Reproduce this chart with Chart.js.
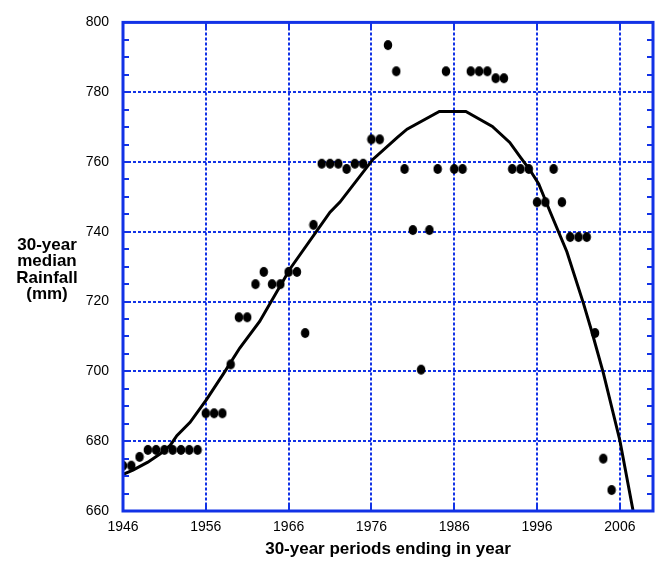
<!DOCTYPE html>
<html>
<head>
<meta charset="utf-8">
<script src="https://cdn.jsdelivr.net/npm/chart.js@4.4.1/dist/chart.umd.min.js"></script>
<style>
  html, body { margin: 0; padding: 0; background: #fff; }
  #wrap { width: 661px; height: 562px; }
</style>
</head>
<body>
<div id="wrap"><canvas id="c" width="661" height="562"></canvas></div>
<script>
// 30-year median rainfall (mm) for each 30-year period, keyed by the ending year
const periodEndYears = [
  1946, 1947, 1948, 1949, 1950, 1951, 1952, 1953, 1954, 1955,
  1956, 1957, 1958, 1959, 1960, 1961, 1962, 1963, 1964, 1965,
  1966, 1967, 1968, 1969, 1970, 1971, 1972, 1973, 1974, 1975,
  1976, 1977, 1978, 1979, 1980, 1981, 1982, 1983, 1984, 1985,
  1986, 1987, 1988, 1989, 1990, 1991, 1992, 1993, 1994, 1995,
  1996, 1997, 1998, 1999, 2000, 2001, 2002, 2003, 2004, 2005
];
const medianRainfall = [
  673, 673, 675.5, 677.5, 677.5, 677.5, 677.5, 677.5, 677.5, 677.5,
  688, 688, 688, 702, 715.5, 715.5, 725, 728.5, 725, 725,
  728.5, 728.5, 711, 742, 759.5, 759.5, 759.5, 758, 759.5, 759.5,
  766.5, 766.5, 793.5, 786, 758, 740.5, 700.5, 740.5, 758, 786,
  758, 758, 786, 786, 786, 784, 784, 758, 758, 758,
  748.5, 748.5, 758, 748.5, 738.5, 738.5, 738.5, 711, 675, 666
];

// Smoothed trend curve
const trendYears = [
  1946, 1947.2, 1949, 1950.5, 1951.7, 1952.5, 1954.1, 1956.1, 1958.1, 1960.1,
  1962.5, 1966.2, 1971, 1972.2, 1976.2, 1979.1, 1980.3, 1984.2, 1987.4, 1990.6,
  1992.7, 1994, 1995.2, 1996.2, 1997.6, 1999.6, 2001.6, 2002.6, 2004, 2006, 2007.6
];
const trendRainfall = [
  670.5, 671.7, 674, 676.4, 678.8, 681.6, 685.4, 692, 699.2, 706.7,
  714.3, 729.5, 745.6, 748.5, 760.8, 767, 769.4, 774.5, 774.5, 770.2,
  765.6, 761.3, 757.5, 753.7, 745.6, 734.3, 719.5, 711.5, 699.6, 680.2, 660
];

// Axis ticks
const xTickYears = [1946, 1956, 1966, 1976, 1986, 1996, 2006];
const yTickValues = [660, 680, 700, 720, 740, 760, 780, 800];
const yMinorStep = 5;

const BLUE = '#1232e6';
const FONT = "'Liberation Sans', Arial, Helvetica, sans-serif";

// Black elliptical marker
function ellipseMarker(w, h) {
  const cv = document.createElement('canvas');
  cv.width = w + 2; cv.height = h + 2;
  const g = cv.getContext('2d');
  g.fillStyle = '#000';
  g.beginPath();
  g.ellipse(cv.width / 2, cv.height / 2, w / 2, h / 2, 0, 0, Math.PI * 2);
  g.fill();
  return cv;
}
const dotMarker = ellipseMarker(8.5, 10);

const framePlugin = {
  id: 'frameAndTitles',
  afterDraw(chart) {
    const { ctx, chartArea: a, scales: { x, y } } = chart;
    ctx.save();
    ctx.strokeStyle = BLUE;
    // inward minor ticks on the value axis (left and right)
    ctx.lineWidth = 2;
    ctx.beginPath();
    for (let v = y.min + yMinorStep; v < y.max; v += yMinorStep) {
      const py = Math.round(y.getPixelForValue(v));
      ctx.moveTo(a.left, py); ctx.lineTo(a.left + 6, py);
      ctx.moveTo(a.right, py); ctx.lineTo(a.right - 6, py);
    }
    // inward ticks on the year axis (bottom and top)
    xTickYears.forEach(t => {
      const px = Math.round(x.getPixelForValue(t));
      ctx.moveTo(px, a.bottom); ctx.lineTo(px, a.bottom - 6);
      ctx.moveTo(px, a.top); ctx.lineTo(px, a.top + 6);
    });
    ctx.stroke();
    // solid frame
    ctx.lineWidth = 3;
    ctx.strokeRect(a.left, a.top, a.right - a.left, a.bottom - a.top);

    // axis titles
    ctx.fillStyle = '#000';
    ctx.textAlign = 'center';
    ctx.textBaseline = 'middle';
    ctx.font = 'bold 17px ' + FONT;
    ctx.fillText('30-year periods ending in year', (a.left + a.right) / 2, 549);
    const lines = ['30-year', 'median', 'Rainfall', '(mm)'];
    const lh = 16.5;
    const cy = 270;
    lines.forEach((s, i) => {
      ctx.fillText(s, 47, cy + (i - (lines.length - 1) / 2) * lh);
    });
    ctx.restore();
  }
};

new Chart(document.getElementById('c'), {
  type: 'scatter',
  data: {
    datasets: [
      {
        label: 'Trend',
        type: 'line',
        data: trendYears.map((yr, i) => ({ x: yr, y: trendRainfall[i] })),
        borderColor: '#000',
        borderWidth: 3,
        pointRadius: 0,
        fill: false,
        tension: 0
      },
      {
        label: '30-year median',
        data: periodEndYears.map((yr, i) => ({ x: yr, y: medianRainfall[i] })),
        pointStyle: dotMarker,
        pointRadius: 5,
        backgroundColor: '#000',
        borderColor: '#000'
      }
    ]
  },
  plugins: [framePlugin],
  options: {
    responsive: false,
    animation: false,
    devicePixelRatio: 1,
    layout: { padding: { left: 0, top: 19, right: 8, bottom: 0 } },
    plugins: { legend: { display: false }, tooltip: { enabled: false }, title: { display: false } },
    scales: {
      x: {
        type: 'linear',
        min: 1946,
        max: 2010,
        afterBuildTicks: s => { s.ticks = xTickYears.map(v => ({ value: v })); },
        afterFit: s => { s.height = 51; },
        grid: { color: BLUE, lineWidth: 2, drawTicks: false },
        border: { display: false, dash: [3, 2] },
        ticks: {
          color: '#000', font: { family: FONT, size: 14 }, padding: 8,
          maxRotation: 0, autoSkip: false, callback: v => String(v)
        }
      },
      y: {
        type: 'linear',
        min: 660,
        max: 800,
        afterBuildTicks: s => { s.ticks = yTickValues.map(v => ({ value: v })); },
        afterFit: s => { s.width = 123; },
        grid: { color: BLUE, lineWidth: 2, drawTicks: false },
        border: { display: false, dash: [3, 2] },
        ticks: { color: '#000', font: { family: FONT, size: 14 }, padding: 14, callback: v => String(v) }
      }
    }
  }
});
</script>
</body>
</html>
